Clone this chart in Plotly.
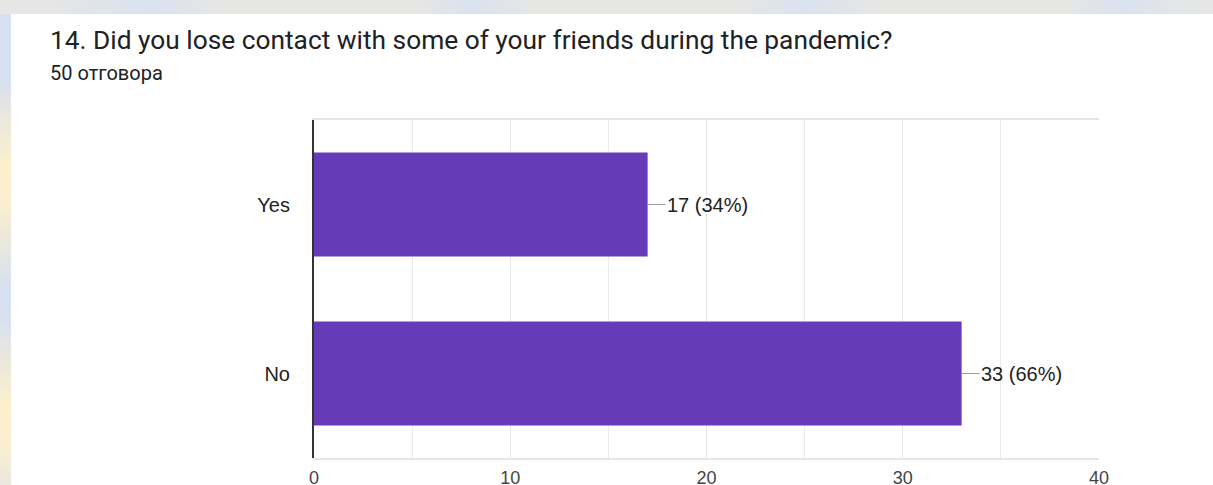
import plotly.graph_objects as go

# Survey answers
categories = ["Yes", "No"]
counts = [17, 33]
total_responses = 50

title_text = "14. Did you lose contact with some of your friends during the pandemic?"
subtitle_text = f"{total_responses} отговора"

x_ticks = [0, 10, 20, 30, 40]

W, H = 1213, 485
M_L, M_R, M_T, M_B = 314, 114, 120, 27
PW, PH = W - M_L - M_R, H - M_T - M_B


def px2x(px):
    return (px - M_L) / PW


def px2y(py):
    return (H - M_B - py) / PH


def hex2rgb(h):
    h = h.lstrip("#")
    return tuple(int(h[i:i + 2], 16) for i in (0, 2, 4))


def lerp_color(stops, t):
    for (p0, c0), (p1, c1) in zip(stops, stops[1:]):
        if p0 <= t <= p1:
            f = 0 if p1 == p0 else (t - p0) / (p1 - p0)
            a, b = hex2rgb(c0), hex2rgb(c1)
            return "rgb(%d,%d,%d)" % tuple(round(a[i] + (b[i] - a[i]) * f) for i in range(3))
    return stops[-1][1]


# Soft page background around the white card
top_stops = [(0, "#e5e6e5"), (40, "#e6e6e4"), (155, "#d9e2f1"), (215, "#e6e6e4"),
             (420, "#e6e6e4"), (472, "#d9e2f1"), (530, "#e6e6e4"), (740, "#e6e6e4"),
             (805, "#d9e2f1"), (870, "#e6e6e4"), (1070, "#e6e6e4"), (1125, "#d9e2f1"),
             (1175, "#e4e6e8"), (1213, "#e6e6e4")]
left_stops = [(0, "#e2e3e3"), (20, "#d8e1f1"), (80, "#d8e1f1"), (120, "#ebe8dc"),
              (165, "#fcf0cd"), (200, "#faefd0"), (240, "#ebe8dd"), (290, "#d8e1f1"),
              (320, "#d9e1f0"), (360, "#ebe7dc"), (410, "#fcf0cd"), (450, "#f8eed3"),
              (485, "#ebe8df")]

shapes = []
step = 4
for x0 in range(0, W, step):
    shapes.append(dict(type="rect", xref="paper", yref="paper", layer="below",
                       x0=px2x(x0), x1=px2x(min(x0 + step + 1, W)),
                       y0=px2y(14), y1=px2y(0), line_width=0,
                       fillcolor=lerp_color(top_stops, x0 + step / 2)))
for y0 in range(14, H, step):
    shapes.append(dict(type="rect", xref="paper", yref="paper", layer="below",
                       x0=px2x(0), x1=px2x(11),
                       y0=px2y(min(y0 + step + 1, H)), y1=px2y(y0), line_width=0,
                       fillcolor=lerp_color(left_stops, y0 + step / 2)))

fig = go.Figure()
fig.add_trace(go.Bar(
    x=counts, y=categories, orientation="h",
    marker=dict(color="#673ab7", line_width=0),
    hoverinfo="skip",
))

annotations = [
    dict(text=title_text, xref="paper", yref="paper", x=px2x(48), y=px2y(40),
         xanchor="left", yanchor="middle", showarrow=False,
         font=dict(family="Roboto", size=26.3, color="#202124")),
    dict(text=subtitle_text, xref="paper", yref="paper", x=px2x(48), y=px2y(73),
         xanchor="left", yanchor="middle", showarrow=False,
         font=dict(family="Roboto", size=20, color="#202124")),
]
for cat, v in zip(categories, counts):
    annotations.append(dict(
        text=f"{v} ({v / total_responses * 100:.0f}%)",
        x=v, y=cat, xref="x", yref="y",
        ax=18, ay=0, axref="pixel", ayref="pixel",
        xanchor="left", yanchor="middle",
        showarrow=True, arrowhead=0, arrowwidth=1, arrowcolor="#9e9e9e",
        standoff=0, borderpad=0,
        font=dict(family="Liberation Sans, Arial", size=20, color="#222222"),
    ))

fig.update_layout(
    width=W, height=H,
    margin=dict(l=M_L, r=M_R, t=M_T, b=M_B, pad=0, autoexpand=False),
    paper_bgcolor="white", plot_bgcolor="white",
    showlegend=False, bargap=0.385,
    shapes=shapes, annotations=annotations,
    xaxis=dict(range=[0, 40], tickvals=x_ticks, ticktext=[str(t) for t in x_ticks],
               automargin=False,
               showgrid=True, gridcolor="#e6e6e6", gridwidth=1,
               minor=dict(dtick=5, tick0=0, showgrid=True, gridcolor="#ececec", gridwidth=1),
               zeroline=False, showline=True, mirror=True, linecolor="#e6e6e6", linewidth=2,
               ticks="outside", ticklen=2, tickcolor="rgba(0,0,0,0)",
               tickfont=dict(family="Liberation Sans, Arial", size=18, color="#444444"),
               fixedrange=True),
    yaxis=dict(categoryorder="array", categoryarray=categories, autorange="reversed",
               automargin=False,
               showgrid=False, zeroline=False, showline=True, linecolor="#333333", linewidth=2,
               ticks="outside", ticklen=18, tickcolor="rgba(0,0,0,0)",
               tickfont=dict(family="Liberation Sans, Arial", size=20, color="#222222"),
               fixedrange=True),
)

fig.write_html("out.html")
